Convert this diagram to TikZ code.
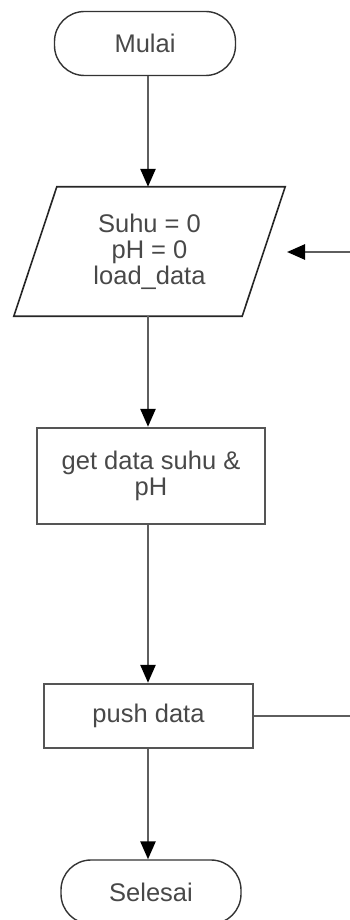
\documentclass[tikz,border=0pt]{standalone}
\usepackage{fontspec}
\setmainfont{Liberation Sans}
\usetikzlibrary{arrows.meta}
\definecolor{txtgray}{HTML}{484848}
\definecolor{linegray}{HTML}{5E5E5E}
\definecolor{edgegray}{HTML}{555555}
\tikzset{
  lbl/.style={font=\fontsize{25.5}{26}\selectfont, text=txtgray, align=center, inner sep=0pt},
  stadium/.style={lbl, draw=black!80, line width=1.4pt, rounded corners=30pt, minimum width=181pt, minimum height=64pt},
  procbox/.style={lbl, draw=edgegray, line width=2.4pt},
  iobox/.style={lbl, minimum width=228pt, minimum height=129pt},
  ioedge/.style={draw=black!85, line width=1.6pt, line join=miter},
  conn/.style={draw=linegray, line width=2.6pt},
  arr/.style={conn, -{Triangle[length=18pt,width=15pt,color=black]}}
}
\begin{document}
\begin{tikzpicture}[x=1pt,y=-1pt]
\useasboundingbox (0,0) rectangle (350,920);
\clip (0,0) rectangle (350,920);
\coordinate (spine) at (148,0);

\node[stadium] (mulai) at (145,43.5) {Mulai};

\node[iobox] (io) at (149.5,251.5) {Suhu = 0\\pH = 0\\load\_data};
\path[ioedge] ([xshift=21.5pt]io.north west) -- ([xshift=21.5pt]io.north east)
  -- ([xshift=-21.5pt]io.south east) -- ([xshift=-21.5pt]io.south west) -- cycle;

\node[procbox, minimum width=228pt, minimum height=96pt] (get) at (151,476) {get data suhu \&\\pH};

\node[procbox, minimum width=209pt, minimum height=64pt] (push) at (148.5,716) {push data};

\node[stadium, minimum width=180pt] (selesai) at (151,892) {Selesai};

\draw[arr] (mulai.south -| spine) -- (io.north -| spine);
\draw[arr] (io.south -| spine) -- (get.north -| spine);
\draw[arr] (get.south -| spine) -- (push.north -| spine);
\draw[arr] (push.south -| spine) -- (selesai.north -| spine);

\coordinate (loopout) at (352,716);
\coordinate (loopin) at (352,252);
\coordinate (looptip) at (287,252);
\draw[conn] (push.east) -- (loopout);
\draw[arr] (loopin) -- (looptip);
\end{tikzpicture}
\end{document}
